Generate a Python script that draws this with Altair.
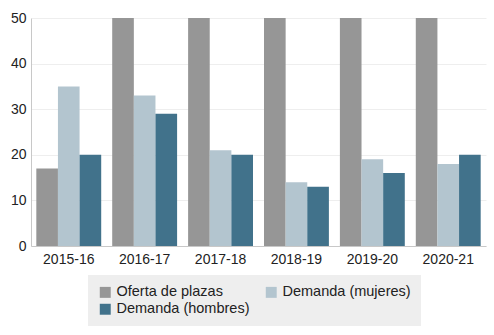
import altair as alt
import pandas as pd

cursos = ["2015-16", "2016-17", "2017-18", "2018-19", "2019-20", "2020-21"]
oferta = [17, 50, 50, 50, 50, 50]
mujeres = [35, 33, 21, 14, 19, 18]
hombres = [20, 29, 20, 13, 16, 20]
series = ["Oferta de plazas", "Demanda (mujeres)", "Demanda (hombres)"]
colores = ["#969696", "#b3c5cf", "#41728b"]
orden_leyenda = ["Oferta de plazas", "Demanda (hombres)", "Demanda (mujeres)"]

rows = []
for i, c in enumerate(cursos):
    for s, vals in zip(series, [oferta, mujeres, hombres]):
        rows.append({"curso": c, "serie": s, "valor": vals[i]})
df = pd.DataFrame(rows)

FONT = "Liberation Sans"

chart = alt.Chart(df).mark_bar(clip=True).encode(
    x=alt.X("curso:N", sort=cursos, title=None,
            scale=alt.Scale(paddingInner=0.145, paddingOuter=0.07),
            axis=alt.Axis(labelAngle=0, ticks=False, domainColor="#c8c8c8",
                          labelFontSize=14, labelColor="#222", labelPadding=6,
                          grid=False, labelFont=FONT)),
    xOffset=alt.XOffset("serie:N", sort=series,
                        scale=alt.Scale(paddingInner=0, paddingOuter=0)),
    y=alt.Y("valor:Q", title=None, scale=alt.Scale(domain=[0, 50], nice=False),
            axis=alt.Axis(values=[0, 10, 20, 30, 40, 50], ticks=False,
                          gridColor="#eeeeee", domainColor="#c8c8c8",
                          labelFontSize=14, labelColor="#222", labelPadding=5,
                          labelFont=FONT)),
    color=alt.Color("serie:N", sort=series,
                    scale=alt.Scale(domain=series, range=colores),
                    legend=alt.Legend(title=None, orient="none", legendX=57, legendY=257,
                                      values=orden_leyenda, gridAlign="all",
                                      columns=2, fillColor="#eeeeee", padding=10,
                                      symbolType="square", symbolSize=120,
                                      symbolStrokeWidth=0,
                                      labelFontSize=14.5, labelFont=FONT,
                                      labelColor="#222", columnPadding=14,
                                      rowPadding=2, labelOffset=4)),
).properties(
    width=455, height=228,
    autosize="none",
    padding={"left": 31, "top": 18, "right": 8, "bottom": 89},
).configure_view(stroke=None)

chart.save("out.html", embed_options={"renderer": "svg", "actions": False})
